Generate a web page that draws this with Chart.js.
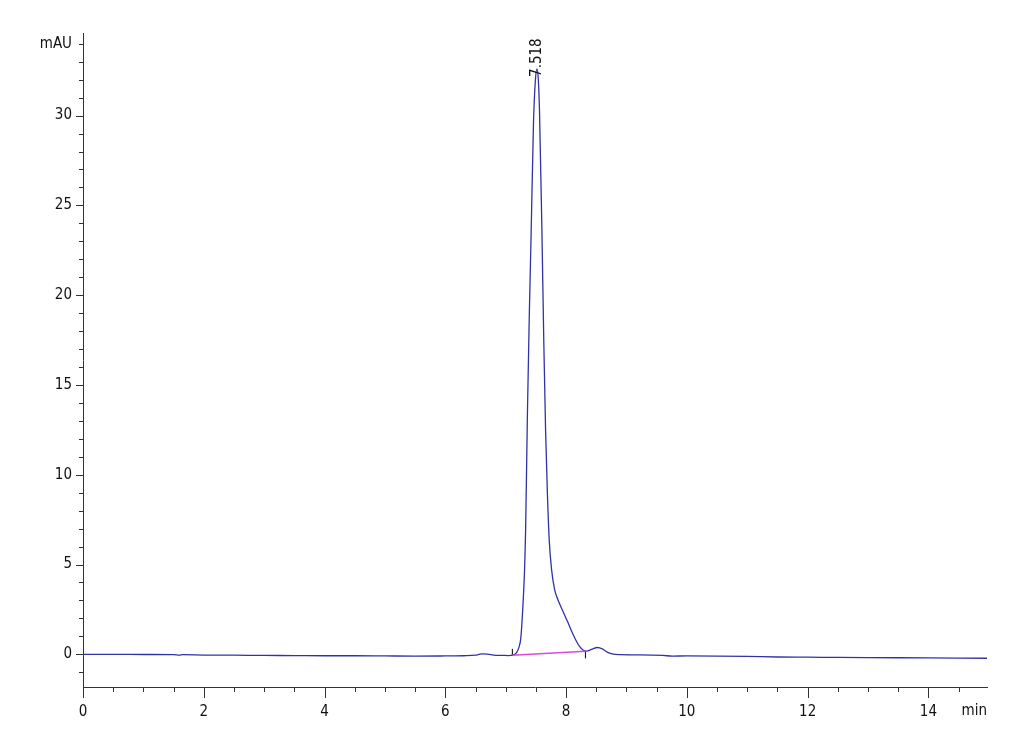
<!DOCTYPE html>
<html>
<head>
<meta charset="utf-8">
<script src="https://cdn.jsdelivr.net/npm/chart.js@4"></script>
<style>
    html, body { margin: 0; padding: 0; background: #fff; }
    #wrap { width: 1030px; height: 755px; }
</style>
</head>
<body>
<div id="wrap"><canvas id="chart" width="1030" height="755"></canvas></div>
<script>
// retention time (min) and detector signal (mAU)
const times = [0, 0.5, 1.0, 1.5, 1.6, 1.65, 2.0, 2.5, 3.0, 3.5, 4.0, 4.5, 5.0, 5.5, 6.0, 6.3, 6.5, 6.6, 6.7, 6.8, 6.95, 7.05,
    7.11, 7.18, 7.22, 7.25, 7.28, 7.31, 7.33, 7.36, 7.39, 7.42, 7.46, 7.49, 7.518, 7.54, 7.56, 7.60, 7.63, 7.66, 7.69, 7.72,
    7.76, 7.81, 7.87, 7.94, 8.02, 8.09, 8.16, 8.22, 8.28, 8.34, 8.42, 8.52, 8.60, 8.68, 8.76, 8.9, 9.2, 9.6, 9.76, 10.0,
    10.5, 11.0, 11.5, 12.0, 12.5, 13.0, 13.5, 14.0, 14.5, 15.0];
const signal = [0.00, 0.00, -0.01, -0.02, -0.04, -0.02, -0.04, -0.05, -0.06, -0.07, -0.08, -0.08, -0.09, -0.10, -0.09, -0.08, -0.05, 0.02, 0.01, -0.04, -0.06, -0.07,
    -0.05, 0.10, 0.40, 0.90, 2.4, 4.5, 7.0, 13.5, 18.8, 23.3, 29.6, 31.9, 32.6, 32.0, 30.2, 23.5, 17.5, 12.5, 9.0, 6.4,
    4.7, 3.6, 3.0, 2.45, 1.85, 1.3, 0.8, 0.45, 0.24, 0.18, 0.27, 0.38, 0.30, 0.12, 0.02, -0.02, -0.03, -0.06, -0.10, -0.09,
    -0.10, -0.12, -0.15, -0.16, -0.17, -0.18, -0.19, -0.20, -0.21, -0.22];

// integration baseline under the main peak
const baseTimes = [7.11, 8.32];
const baseValues = [-0.05, 0.17];
// integration start / end markers
const markTimes = [7.11, 8.32];
const markValues = [0.11, -0.03];

const peakTimes = [7.518];
const peakHeights = [32.6];
const peakLabels = ['7.518'];

const xLabels = [0, 2, 4, 6, 8, 10, 12, 14];
const yLabels = [0, 5, 10, 15, 20, 25, 30];
const xUnit = 'min';
const yUnit = 'mAU';
const yUnitAt = 34;

const FONT = "'Liberation Sans Narrow', 'Arial Narrow', 'DejaVu Sans Condensed', 'Liberation Sans', sans-serif";

const extras = {
    id: 'extras',
    afterDraw(chart) {
        const {ctx, scales: {x, y}} = chart;
        ctx.save();
        ctx.strokeStyle = '#333';
        ctx.lineWidth = 1;
        ctx.beginPath();
        // x ticks, every 0.5 min, long on labelled ones
        for (let v = x.min; v <= x.max + 1e-9; v += 0.5) {
            const px = Math.round(x.getPixelForValue(v)) + 0.5;
            const len = xLabels.includes(v) ? 11 : 5;
            ctx.moveTo(px, x.top);
            ctx.lineTo(px, x.top + len);
        }
        // y ticks, every 1 mAU
        for (let v = Math.ceil(y.min); v <= y.max; v += 1) {
            const py = Math.round(y.getPixelForValue(v)) + 0.5;
            const len = yLabels.includes(v) ? 7 : 4;
            ctx.moveTo(y.right, py);
            ctx.lineTo(y.right - len, py);
        }
        ctx.stroke();

        ctx.fillStyle = '#111';
        ctx.font = '15px ' + FONT;
        ctx.textAlign = 'right';
        ctx.textBaseline = 'middle';
        ctx.fillText(xUnit, x.right, x.top + 24);

        peakTimes.forEach((t, i) => {
            const px = x.getPixelForValue(t);
            const py = y.getPixelForValue(peakHeights[i]) + 8;
            ctx.save();
            ctx.translate(px, py);
            ctx.rotate(-Math.PI / 2);
            ctx.textAlign = 'left';
            ctx.fillText(peakLabels[i], 0, 0);
            ctx.restore();
        });
        ctx.restore();
    }
};

new Chart(document.getElementById('chart'), {
    type: 'scatter',
    data: {
        datasets: [
            {
                data: baseTimes.map((t, i) => ({x: t, y: baseValues[i]})),
                showLine: true,
                borderColor: '#dc4ad8',
                borderWidth: 1.6,
                pointRadius: 0
            },
            {
                data: times.map((t, i) => ({x: t, y: signal[i]})),
                showLine: true,
                borderColor: '#3232a6',
                borderWidth: 1.3,
                pointRadius: 0,
                cubicInterpolationMode: 'monotone'
            },
            {
                data: markTimes.map((t, i) => ({x: t, y: markValues[i]})),
                pointStyle: 'line',
                rotation: 90,
                radius: 3.5,
                borderColor: '#000',
                borderWidth: 1
            }
        ]
    },
    options: {
        responsive: false,
        animation: false,
        events: [],
        layout: {
            autoPadding: false,
            padding: {top: 33, right: 43, left: 0, bottom: 0}
        },
        plugins: {
            legend: {display: false},
            tooltip: {enabled: false}
        },
        scales: {
            x: {
                type: 'linear',
                min: 0,
                max: 14.97,
                afterFit: s => { s.height = 68; },
                grid: {display: false},
                border: {display: true, color: '#333', width: 1},
                ticks: {
                    stepSize: 0.5,
                    includeBounds: false,
                    autoSkip: false,
                    maxRotation: 0,
                    padding: 8,
                    color: '#111',
                    font: {family: FONT, size: 15},
                    callback: v => xLabels.includes(v) ? String(v) : ''
                }
            },
            y: {
                type: 'linear',
                min: -1.82,
                max: 34.6,
                afterFit: s => { s.width = 83; },
                grid: {display: false},
                border: {display: true, color: '#333', width: 1},
                ticks: {
                    stepSize: 1,
                    includeBounds: false,
                    autoSkip: false,
                    padding: 3,
                    color: '#111',
                    font: {family: FONT, size: 15},
                    callback: v => v === yUnitAt ? yUnit : (yLabels.includes(v) ? String(v) : '')
                }
            }
        }
    },
    plugins: [extras]
});
</script>
</body>
</html>
